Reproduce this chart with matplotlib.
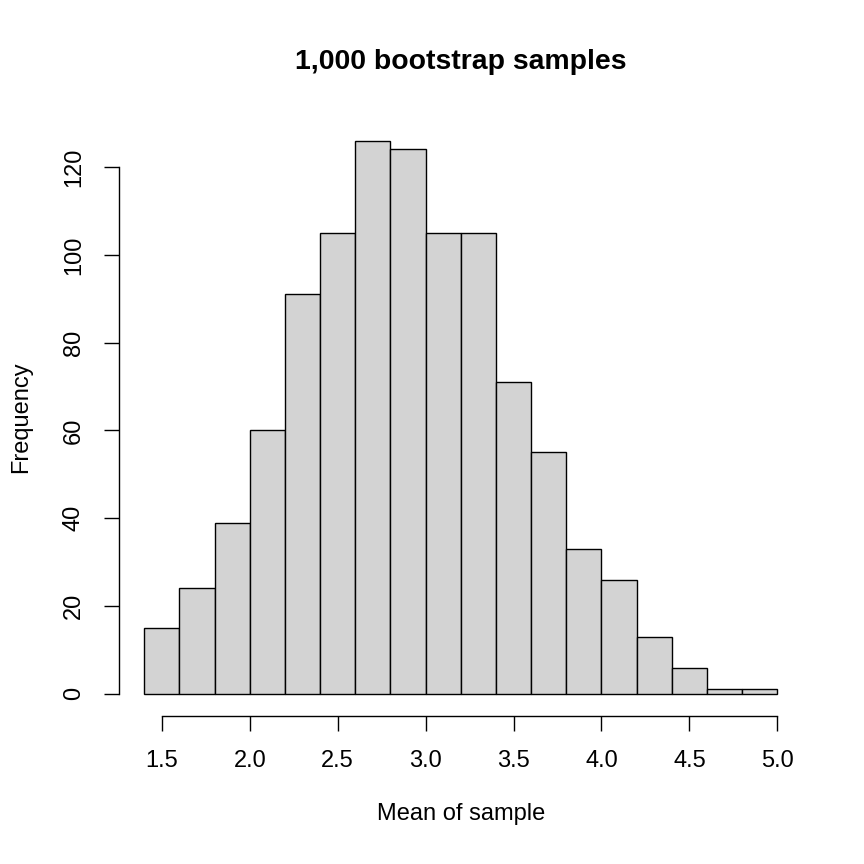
import numpy as np
import matplotlib
matplotlib.use("Agg")
import matplotlib.pyplot as plt

# Histogram of 1,000 bootstrap sample means (bin edges + counts)
bin_edges = [1.4, 1.6, 1.8, 2.0, 2.2, 2.4, 2.6, 2.8, 3.0, 3.2,
             3.4, 3.6, 3.8, 4.0, 4.2, 4.4, 4.6, 4.8, 5.0]
counts = [15, 24, 39, 60, 91, 105, 126, 124, 105, 105,
          71, 55, 33, 26, 13, 6, 1, 1]
x_ticks = [1.5, 2.0, 2.5, 3.0, 3.5, 4.0, 4.5, 5.0]
y_ticks = [0, 20, 40, 60, 80, 100, 120]

plt.rcParams["font.family"] = ["Liberation Sans", "DejaVu Sans"]

fig = plt.figure(figsize=(8.64, 8.64), dpi=100)
ax = fig.add_axes([0.1377, 0.1713, 0.7913, 0.6915])

edges = np.array(bin_edges)
ax.bar(edges[:-1], counts, width=np.diff(edges), align="edge",
       color="#D3D3D3", edgecolor="black", linewidth=1.0)

# R-style axis ranges: data range padded by 4% on each side
xr = edges[-1] - edges[0]
ax.set_xlim(edges[0] - 0.04 * xr, edges[-1] + 0.04 * xr)
ymax = max(counts)
ax.set_ylim(-0.04 * ymax, ymax * 1.04)

for side in ["top", "right"]:
    ax.spines[side].set_visible(False)
ax.spines["bottom"].set_bounds(x_ticks[0], x_ticks[-1])
ax.spines["left"].set_bounds(y_ticks[0], y_ticks[-1])
ax.spines["bottom"].set_linewidth(1.0)
ax.spines["left"].set_linewidth(1.0)

ax.set_xticks(x_ticks)
ax.set_xticklabels([f"{v:.1f}" for v in x_ticks])
ax.set_yticks(y_ticks)
ax.set_yticklabels([str(v) for v in y_ticks], rotation=90, va="center")
ax.tick_params(axis="both", length=10.5, width=1.0, labelsize=17, pad=14)

ax.set_title("1,000 bootstrap samples", fontsize=20.4, fontweight="bold", pad=36)
ax.set_xlabel("Mean of sample", fontsize=17, labelpad=22)
ax.set_ylabel("Frequency", fontsize=17, labelpad=22)

fig.savefig("out.png", dpi=100)
